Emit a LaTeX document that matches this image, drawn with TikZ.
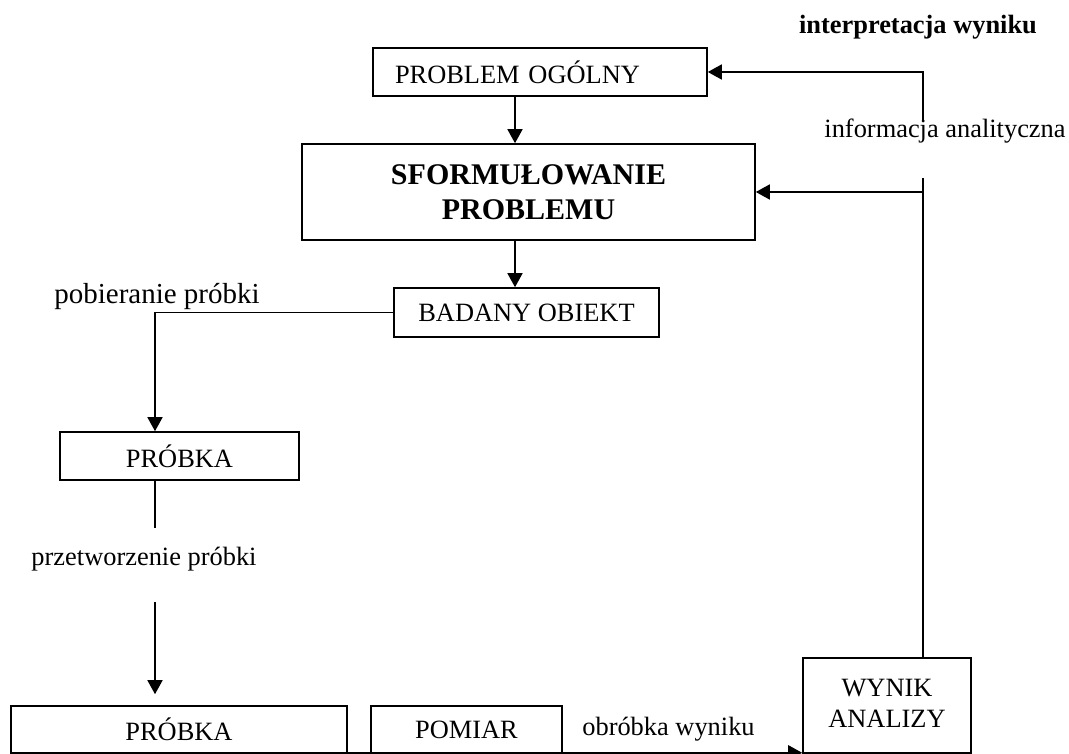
\documentclass[tikz,border=0pt]{standalone}
\usepackage{fontspec}
\setmainfont{Liberation Serif}
\usetikzlibrary{arrows.meta}

\tikzset{
  box/.style={draw, line width=1.6pt, inner sep=0pt, align=center,
              font=\fontsize{26.4}{30}\selectfont},
  lbl/.style={inner sep=0pt, font=\fontsize{26.4}{30}\selectfont},
  link/.style={line width=1.6pt},
  arr/.style={line width=1.6pt, -{Triangle[length=14pt,width=15pt]}},
}

\begin{document}
\begin{tikzpicture}[x=1pt, y=-1pt]
  \useasboundingbox (0,0) rectangle (1069,754);

  % columns along which the vertical connectors run
  \coordinate (mcol) at (515,0);
  \coordinate (lcol) at (155,0);
  \coordinate (rcol) at (923,0);

  % boxes
  \node[box, minimum height=48pt, text width=290pt, inner xsep=22pt, align=left]
       (po) at (540,72) {PROBLEM OGÓLNY};
  \node[box, minimum width=453pt, minimum height=96pt,
        font=\fontsize{30}{35}\selectfont\bfseries]
       (sf) at (528.5,192) {SFORMUŁOWANIE\\PROBLEMU};
  \node[box, minimum width=265pt, minimum height=49pt] (bo) at (526.5,312.5) {BADANY OBIEKT};
  \node[box, minimum width=239pt, minimum height=48pt] (p1) at (179.5,456) {PRÓBKA};
  \node[box, minimum width=336pt, minimum height=47pt] (p2) at (179,729.5) {PRÓBKA};
  \node[box, minimum width=191pt, minimum height=47pt] (pm) at (466.5,729.5) {POMIAR};
  \node[box, minimum width=168pt, minimum height=95pt,
        font=\fontsize{26.4}{32}\selectfont] (wa) at (887,705.5)
       {\raisebox{5pt}{\begin{tabular}{@{}c@{}}WYNIK\\[-1pt]ANALIZY\end{tabular}}};

  % labels
  \node[lbl, font=\fontsize{26.4}{30}\selectfont\bfseries] (iw) at (918,27) {interpretacja wyniku};
  \node[lbl] (ia) at (945,131) {informacja analityczna};
  \node[lbl, font=\fontsize{29}{33}\selectfont] (pp) at (157,297) {pobieranie próbki};
  \node[lbl] (pz) at (144,559) {przetworzenie próbki};
  \node[lbl] (ow) at (668.5,729) {obróbka wyniku};

  % breaks in the vertical runs around the labels
  \coordinate (c1) at (155,528);
  \coordinate (c2) at (155,602);
  \coordinate (c3) at (923,178);
  \coordinate (c4) at (923,120);

  % connectors
  \draw[arr] (po.south -| mcol) -- (sf.north -| mcol);
  \draw[arr] (sf.south -| mcol) -- (bo.north -| mcol);
  \draw[arr] (bo.west) -| (p1.north -| lcol);
  \draw[link] (p1.south -| lcol) -- (c1);
  \draw[arr, shorten >=11pt] (c2) -- (p2.north -| lcol);
  \draw[link] ([yshift=1pt]p2.south east) -- ([yshift=1pt]pm.south west);
  \draw[arr] ([yshift=1pt]pm.south east) -- ([yshift=1pt]wa.south west);
  \draw[link] (wa.north -| rcol) -- (c3);
  \draw[arr] (c4) |- (po.east);
  \draw[arr] (rcol |- sf.east) -- (sf.east);
\end{tikzpicture}
\end{document}
